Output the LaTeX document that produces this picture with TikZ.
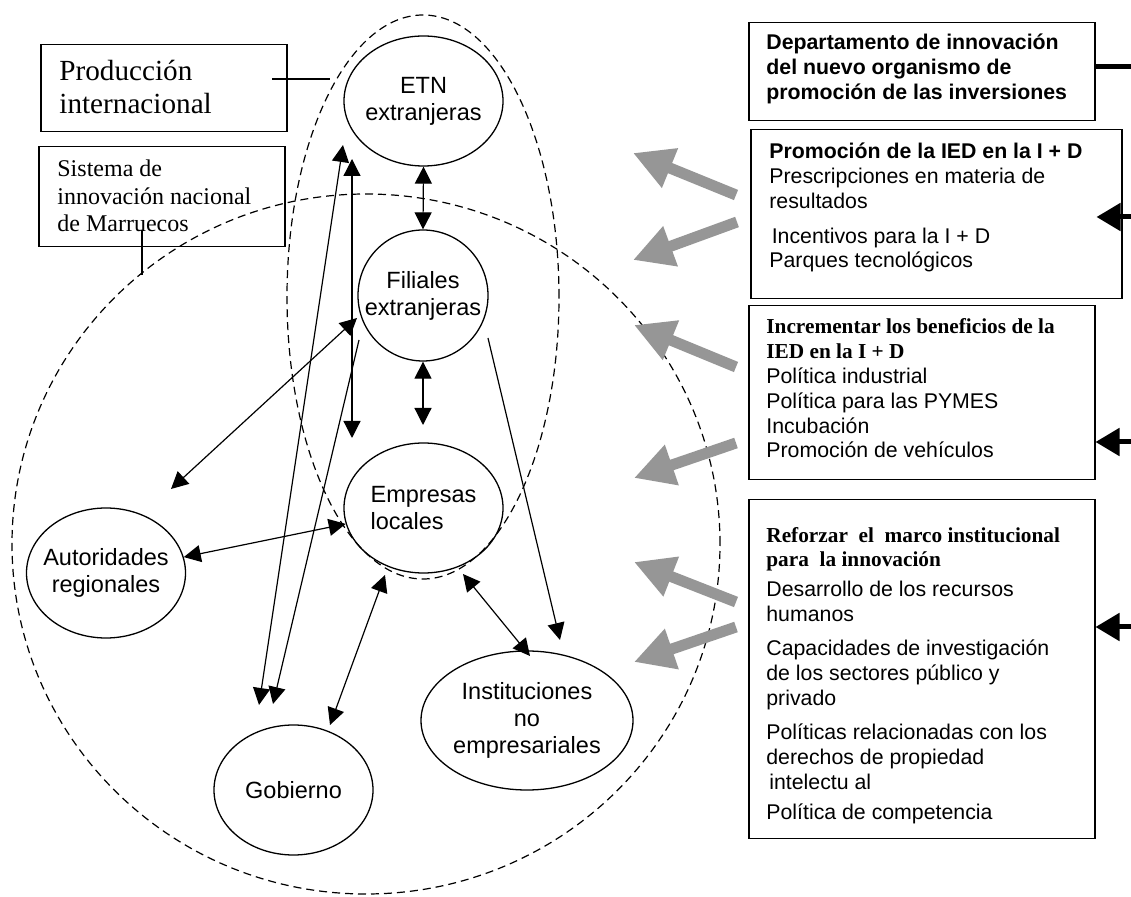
\documentclass[tikz,border=0pt]{standalone}
\usepackage{fontspec}
\setmainfont{Liberation Serif}
\setsansfont{Liberation Sans}
\usetikzlibrary{arrows.meta,shapes.geometric,positioning}

\definecolor{arrowgray}{RGB}{150,150,150}

\tikzset{
  actor/.style={ellipse, draw, line width=0.65pt, inner sep=-8pt, align=center,
    minimum width=79.5pt, minimum height=65pt,
    font=\sffamily\fontsize{11.75}{13.5}\selectfont},
  panel/.style={rectangle, draw, line width=0.75pt, inner sep=0pt, anchor=north west},
  paneltext/.style={anchor=base west, inner sep=0pt, align=left,
    font=\sffamily\fontsize{10.65}{12.45}\selectfont},
  rim/.style={line width=0.6pt, dash pattern=on 4pt off 2.5pt},
  tick/.style={line width=0.6pt},
  link/.style={line width=0.6pt, {Triangle[length=8.5pt,width=8.5pt]}-{Triangle[length=8.5pt,width=8.5pt]}},
  onelink/.style={line width=0.6pt, -{Triangle[length=8.5pt,width=8.5pt]}},
  feed/.style={line width=2.5pt, -{Triangle[length=12pt,width=13.5pt]}},
  push/.style={draw=arrowgray, line width=5.5pt, -{Triangle[length=20pt,width=20pt]}}
}

\begin{document}
\begin{tikzpicture}[x=0.5pt,y=-0.5pt]
    \useasboundingbox (0,0) rectangle (1131,897) ;

    % the two systems
    \draw[rim] (423,297) ellipse [x radius=68pt, y radius=141pt] ;
    \draw[rim] (366,544) ellipse [x radius=177pt, y radius=175pt] ;

    % actors
    \node[actor] (etn) at (423.5,101) {ETN\\extranjeras} ;
    \node[actor, minimum width=65pt, minimum height=65.5pt] (fil) at (423,295.5) {Filiales\\extranjeras} ;
    \node[actor, align=left] (emp) at (423.5,508) {Empresas\\locales} ;
    \node[actor] (aut) at (106,573) {Autoridades\\regionales} ;
    \node[actor] (gob) at (293.5,790) {Gobierno} ;
    \node[actor, minimum width=106pt, minimum height=69.5pt] (inst) at (527,720.5) {Instituciones\\no\\empresariales} ;

    % left labels (text anchored on its last baseline)
    \node[panel, minimum width=123pt, minimum height=43.5pt] (prod) at (40,44) {} ;
    \node[paneltext, font=\rmfamily\fontsize{14.6}{16.5}\selectfont] (prodtxt) at (59,114) {Producción\\internacional} ;
    \coordinate (prodend) at (272,79) ;
    \coordinate (prodrim) at (330,79) ;
    \draw[tick] (prodend) -- (prodrim) ;

    \node[panel, minimum width=123pt, minimum height=50pt] (sis) at (38,146) {} ;
    \node[paneltext, font=\rmfamily\fontsize{12}{13.75}\selectfont] (sistxt) at (57,232) {Sistema de\\innovación nacional\\de Marruecos} ;
    \coordinate (sisend) at (142,230) ;
    \coordinate (sisrim) at (142,275) ;
    \draw[tick] (sisend) -- (sisrim) ;

    % links between actors
    \draw[link] (etn.south) -- (fil.north) ;
    \coordinate (empN) at (423,425) ;
    \draw[link] (fil.south) -- (empN) ;
    \coordinate (etnSW) at (352,159) ;
    \coordinate (empNW) at (352,438) ;
    \draw[link] (etnSW) -- (empNW) ;
    \coordinate (etnL) at (343,145) ;
    \coordinate (gobA) at (259,705) ;
    \draw[link] (etnL) -- (gobA) ;
    \coordinate (filL) at (359,340) ;
    \coordinate (gobB) at (273,704) ;
    \draw[onelink] (filL) -- (gobB) ;
    \coordinate (filW) at (357,318) ;
    \coordinate (autNE) at (171,489) ;
    \draw[link] (filW) -- (autNE) ;
    \draw[link] (aut) -- (emp) ;
    \coordinate (empS1) at (385,575) ;
    \coordinate (gobN) at (330,725) ;
    \draw[link] (empS1) -- (gobN) ;
    \coordinate (empS2) at (463,574) ;
    \coordinate (instN) at (530,656) ;
    \draw[link] (empS2) -- (instN) ;
    \coordinate (filSE) at (488,338) ;
    \coordinate (instNE) at (560,640) ;
    \draw[onelink] (filSE) -- (instNE) ;

    % policy panels
    \node[panel, minimum width=173pt, minimum height=49pt] (dep) at (748,22) {} ;
    \node[paneltext, font=\sffamily\bfseries\fontsize{10.65}{12.5}\selectfont] (deptxt) at (766,100) {Departamento de innovación\\del nuevo organismo de\\promoción de las inversiones} ;

    \node[panel, minimum width=185.5pt, minimum height=84.5pt] (promo) at (750,129) {} ;
    \node[paneltext] (promotxt) at (769,268) {{\bfseries Promoción de la IED en la I + D}\\Prescripciones en materia de\\resultados\\[5pt]\hspace*{1.2pt}Incentivos para la I + D\\Parques tecnológicos} ;

    \node[panel, minimum width=173pt, minimum height=87pt] (incr) at (748,305) {} ;
    \node[paneltext] (incrtxt) at (766,458) {{\rmfamily\bfseries Incrementar los beneficios de la}\\{\rmfamily\bfseries IED en la I + D}\\Política industrial\\Política para las PYMES\\Incubación\\Promoción de vehículos} ;

    \node[panel, minimum width=173pt, minimum height=169.5pt] (refz) at (748,499) {} ;
    \node[paneltext] (refztxt) at (766,820) {{\rmfamily\bfseries Reforzar~ el~ marco institucional}\\{\rmfamily\bfseries para~ la innovación}\\[2.5pt]Desarrollo de los recursos\\humanos\\[4.5pt]Capacidades de investigación\\de los sectores público y\\privado\\[4.5pt]Políticas relacionadas con los\\derechos de propiedad\\\hspace*{1.5pt}intelectu al\\[3pt]Política de competencia} ;

    % inputs from the right
    \coordinate (depout) at (1131,67) ;
    \draw[line width=2.5pt] (dep.east |- depout) -- (depout) ;
    \coordinate (promoin) at (1131,217) ;
    \draw[feed] (promoin) -- ([xshift=-13pt]promo.east |- promoin) ;
    \coordinate (incrin) at (1131,442) ;
    \draw[feed] (incrin) -- (incrin -| incr.east) ;
    \coordinate (refzin) at (1131,627) ;
    \draw[feed] (refzin) -- (refzin -| refz.east) ;

    % grey arrows towards the system
    \coordinate (g1a) at (736,195) ;
    \coordinate (g1b) at (633,153) ;
    \draw[push] (g1a) -- (g1b) ;
    \coordinate (g2a) at (737,222) ;
    \coordinate (g2b) at (633,260) ;
    \draw[push] (g2a) -- (g2b) ;
    \coordinate (g3a) at (736,367) ;
    \coordinate (g3b) at (634,325) ;
    \draw[push] (g3a) -- (g3b) ;
    \coordinate (g4a) at (736,443) ;
    \coordinate (g4b) at (634,478) ;
    \draw[push] (g4a) -- (g4b) ;
    \coordinate (g5a) at (736,602) ;
    \coordinate (g5b) at (634,562) ;
    \draw[push] (g5a) -- (g5b) ;
    \coordinate (g6a) at (736,627) ;
    \coordinate (g6b) at (634,662) ;
    \draw[push] (g6a) -- (g6b) ;
\end{tikzpicture}
\end{document}
